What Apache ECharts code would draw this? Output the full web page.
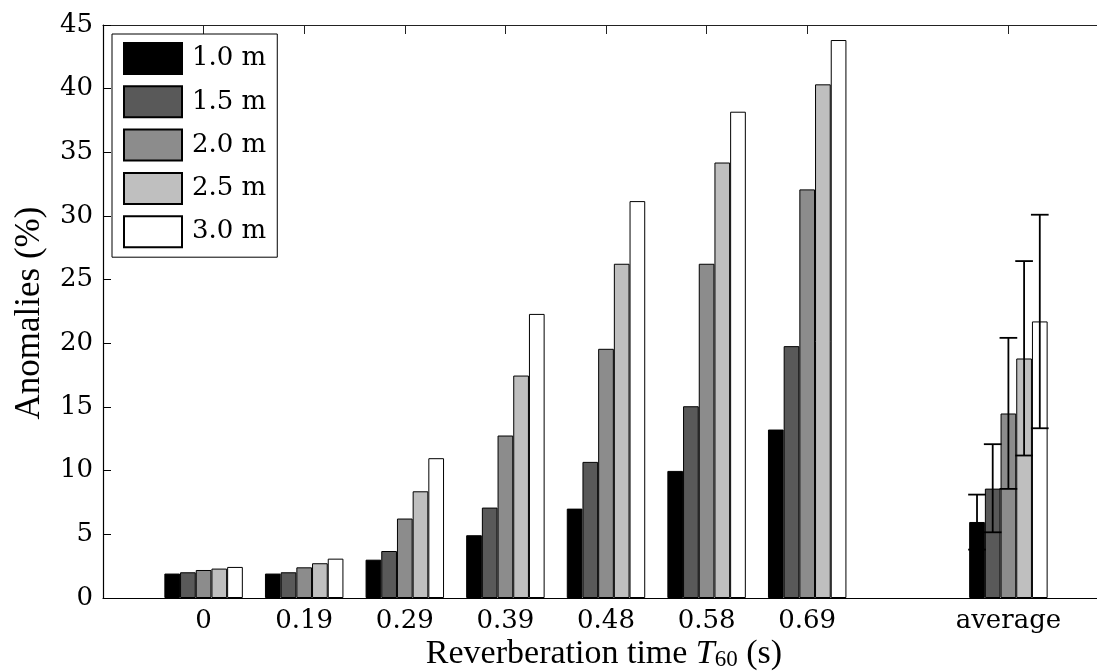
<!DOCTYPE html>
<html>
<head>
<meta charset="utf-8">
<script src="https://cdn.jsdelivr.net/npm/echarts@6/dist/echarts.min.js"></script>
<style>
html,body{margin:0;padding:0;background:#fff;}
#chart{width:1097px;height:672px;}
</style>
</head>
<body>
<div id="chart"></div>
<script>
// ---- data ----
const categories = ['0', '0.19', '0.29', '0.39', '0.48', '0.58', '0.69', 'average'];
const seriesNames = ['1.0 m', '1.5 m', '2.0 m', '2.5 m', '3.0 m'];
const d10 = [1.92, 1.92, 3.01, 4.93, 7.02, 9.98, 13.23, 5.97];
const d15 = [2.02, 2.02, 3.69, 7.10, 10.69, 15.06, 19.78, 8.59];
const d20 = [2.20, 2.41, 6.24, 12.76, 19.57, 26.25, 32.09, 14.49];
const d25 = [2.31, 2.73, 8.38, 17.47, 26.25, 34.20, 40.34, 18.81];
const d30 = [2.44, 3.09, 10.98, 22.31, 31.17, 38.19, 43.82, 21.72];
const errLow = [3.80, 5.16, 8.57, 11.19, 13.33];
const errHigh = [8.12, 12.08, 20.43, 26.46, 30.10];
const yTicks = [0, 5, 10, 15, 20, 25, 30, 35, 40, 45];

// ---- layout of category slots (blank slot before, gap before "average", blank after) ----
const slots = [''].concat(categories.slice(0, 7), [''], [categories[7]], ['']);
const slotOf = categories.map(function (c, i) { return i < 7 ? i + 1 : 9; });
function toSlots(vals) {
  const arr = slots.map(function () { return null; });
  vals.forEach(function (v, i) { arr[slotOf[i]] = v; });
  return arr;
}
const allData = [d10, d15, d20, d25, d30];
const colors = ['#000000', '#595959', '#8c8c8c', '#bfbfbf', '#ffffff'];
const BAR_FRAC = 0.156;
const SERIF = 'DejaVu Serif';
const TITLE_FONT = 'Liberation Serif';

const chart = echarts.init(document.getElementById('chart'), null, {renderer: 'canvas'});

const tickFilter = function (idx, val) { return val !== ''; };

const series = allData.map(function (d, s) {
  return {
    name: seriesNames[s],
    type: 'bar',
    data: toSlots(d),
    barWidth: (BAR_FRAC * 100) + '%',
    barGap: '0%',
    itemStyle: {color: colors[s], borderColor: '#000', borderWidth: 1},
    emphasis: {disabled: true},
    z: 2
  };
});

const errData = errLow.map(function (lo, s) { return [slotOf[7], lo, errHigh[s], s]; });
series.push({
  type: 'custom',
  name: 'err',
  data: errData,
  encode: {x: 0, y: [1, 2]},
  z: 5,
  silent: true,
  renderItem: function (params, api) {
    const slot = api.value(0), lo = api.value(1), hi = api.value(2), s = api.value(3);
    const band = api.size([1, 0])[0];
    const bw = band * BAR_FRAC;
    const cx = api.coord([slot, 0])[0] + (s - 2) * bw;
    const yl = api.coord([slot, lo])[1];
    const yh = api.coord([slot, hi])[1];
    const hw = bw / 2 + 1;
    const st = {stroke: '#000', lineWidth: 1.8};
    return {
      type: 'group',
      children: [
        {type: 'line', shape: {x1: cx, y1: yl, x2: cx, y2: yh}, style: st},
        {type: 'line', shape: {x1: cx - hw, y1: yh, x2: cx + hw, y2: yh}, style: st},
        {type: 'line', shape: {x1: cx - hw, y1: yl, x2: cx + hw, y2: yl}, style: st}
      ]
    };
  }
});

const option = {
  backgroundColor: '#fff',
  animation: false,
  grid: {left: 103, top: 25, right: -12, bottom: 74, containLabel: false, outerBoundsMode: 'none'},
  legend: {
    orient: 'vertical',
    left: 112, top: 34,
    padding: [8, 11, 9, 11],
    itemWidth: 58, itemHeight: 31, itemGap: 10.3,
    backgroundColor: '#fff', borderColor: '#000', borderWidth: 1, borderRadius: 0,
    icon: 'rect',
    selectedMode: false,
    textStyle: {fontFamily: SERIF, fontSize: 26, color: '#000', padding: [0, 0, 0, 5]},
    data: seriesNames
  },
  xAxis: [{
    type: 'category',
    data: slots,
    boundaryGap: false,
    position: 'bottom',
    axisLine: {show: true, onZero: false, lineStyle: {color: '#000', width: 1.2}},
    axisTick: {show: true, inside: true, length: 8, interval: tickFilter, lineStyle: {color: '#000'}},
    axisLabel: {interval: 0, fontFamily: SERIF, fontSize: 26, color: '#000', margin: 10},
    splitLine: {show: false}
  }, {
    type: 'category',
    data: slots,
    boundaryGap: false,
    position: 'top',
    axisLine: {show: true, onZero: false, lineStyle: {color: '#222', width: 1.2}},
    axisTick: {show: true, inside: true, length: 9, interval: tickFilter, lineStyle: {color: '#222'}},
    axisLabel: {show: false},
    splitLine: {show: false}
  }],
  yAxis: {
    type: 'value',
    min: yTicks[0], max: yTicks[yTicks.length - 1], interval: yTicks[1] - yTicks[0],
    axisLine: {show: true, lineStyle: {color: '#000', width: 1.2}},
    axisTick: {show: true, inside: true, length: 8, lineStyle: {color: '#000'}},
    axisLabel: {fontFamily: SERIF, fontSize: 26, color: '#000', margin: 10},
    splitLine: {show: false}
  },
  graphic: [{
    type: 'text',
    x: 604, y: 654,
    style: {
      text: 'Reverberation time {t|T}{s|60} (s)',
      fontFamily: TITLE_FONT, fontSize: 34, fill: '#000',
      align: 'center', verticalAlign: 'middle',
      rich: {
        t: {fontFamily: TITLE_FONT, fontStyle: 'italic', fontSize: 34},
        s: {fontFamily: TITLE_FONT, fontSize: 23, verticalAlign: 'bottom', lineHeight: 14}
      }
    }
  }, {
    type: 'text',
    x: 30, y: 313,
    rotation: Math.PI / 2,
    style: {
      text: 'Anomalies (%)',
      fontFamily: TITLE_FONT, fontSize: 35, fill: '#000',
      align: 'center', verticalAlign: 'middle'
    }
  }],
  series: series
};
chart.setOption(option);
</script>
</body>
</html>
